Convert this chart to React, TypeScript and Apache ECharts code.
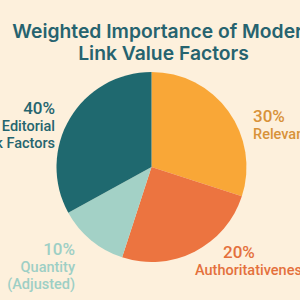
import React, { useEffect, useRef } from "react";
import * as echarts from "echarts";

const categories = ["Relevance", "Authoritativeness", "Quantity (Adjusted)", "Editorial Link Factors"];
const sliceValues = [30, 25, 12, 33];
const labelPercents = ["30%", "20%", "10%", "40%"];
const labelNames = ["Relevance", "Authoritativeness", "Quantity\n(Adjusted)", "Editorial\nLink Factors"];
const sliceColors = ["#f9a737", "#ec7440", "#a3d1c6", "#1f696f"];
const labelColors = ["#d89238", "#e4703c", "#9dcfc5", "#25656f"];

// label anchor placement (x, y, align)
const labelPlacement: [number, number, "left" | "right"][] = [
  [253, 105, "left"],
  [195, 241, "left"],
  [75, 238, "right"],
  [55, 97, "right"],
];

export default function App() {
  const ref = useRef<HTMLDivElement>(null);
  useEffect(() => {
    if (!ref.current) return;
    const chart = echarts.init(ref.current, undefined, { renderer: "svg" });
    const font = "Inter, 'Noto Sans', sans-serif";
    const lfont = "Roboto, 'Noto Sans', sans-serif";
    chart.setOption({
      animation: false,
      backgroundColor: "#fdf0dc",
      title: {
        text: "Weighted Importance of Modern\nLink Value Factors",
        left: 158.5,
        textAlign: "center",
        top: 15,
        textStyle: {
          color: "#26636f",
          fontFamily: font,
          fontWeight: 600,
          fontSize: 19.3,
          lineHeight: 22,
        },
      },
      series: [
        {
          type: "pie",
          center: [151.5, 167],
          radius: 95,
          startAngle: 90,
          clockwise: true,
          avoidLabelOverlap: false,
          labelLine: { show: false },
          data: categories.map((c, i) => ({
            name: c,
            value: sliceValues[i],
            itemStyle: { color: sliceColors[i] },
            label: {
              show: true,
              position: "outside",
              formatter:
                (i === 1 ? "{q|" : "{p|") +
                labelPercents[i] +
                "}\n" +
                labelNames[i]
                  .split("\n")
                  .map((s) => "{n|" + s + "}")
                  .join("\n"),
              align: labelPlacement[i][2],
              rich: {
                p: { fontSize: 17, fontWeight: 500, lineHeight: 21, color: labelColors[i], fontFamily: lfont, align: labelPlacement[i][2] },
                q: { fontSize: 17, fontWeight: 500, lineHeight: 21, color: labelColors[i], fontFamily: lfont, padding: [0, 0, 0, 28] },
                n: { fontSize: 14.5, fontWeight: 500, lineHeight: 17, color: labelColors[i], fontFamily: lfont, align: labelPlacement[i][2] },
              },
            },
          })),
          labelLayout: (params: any) => {
            const p = labelPlacement[params.dataIndex];
            return { x: p[0], y: p[1], align: p[2], verticalAlign: "top" };
          },
        },
      ],
    });
    return () => chart.dispose();
  }, []);
  return <div ref={ref} style={{ position: "fixed", left: 0, top: 0, width: 300, height: 300 }} />;
}
